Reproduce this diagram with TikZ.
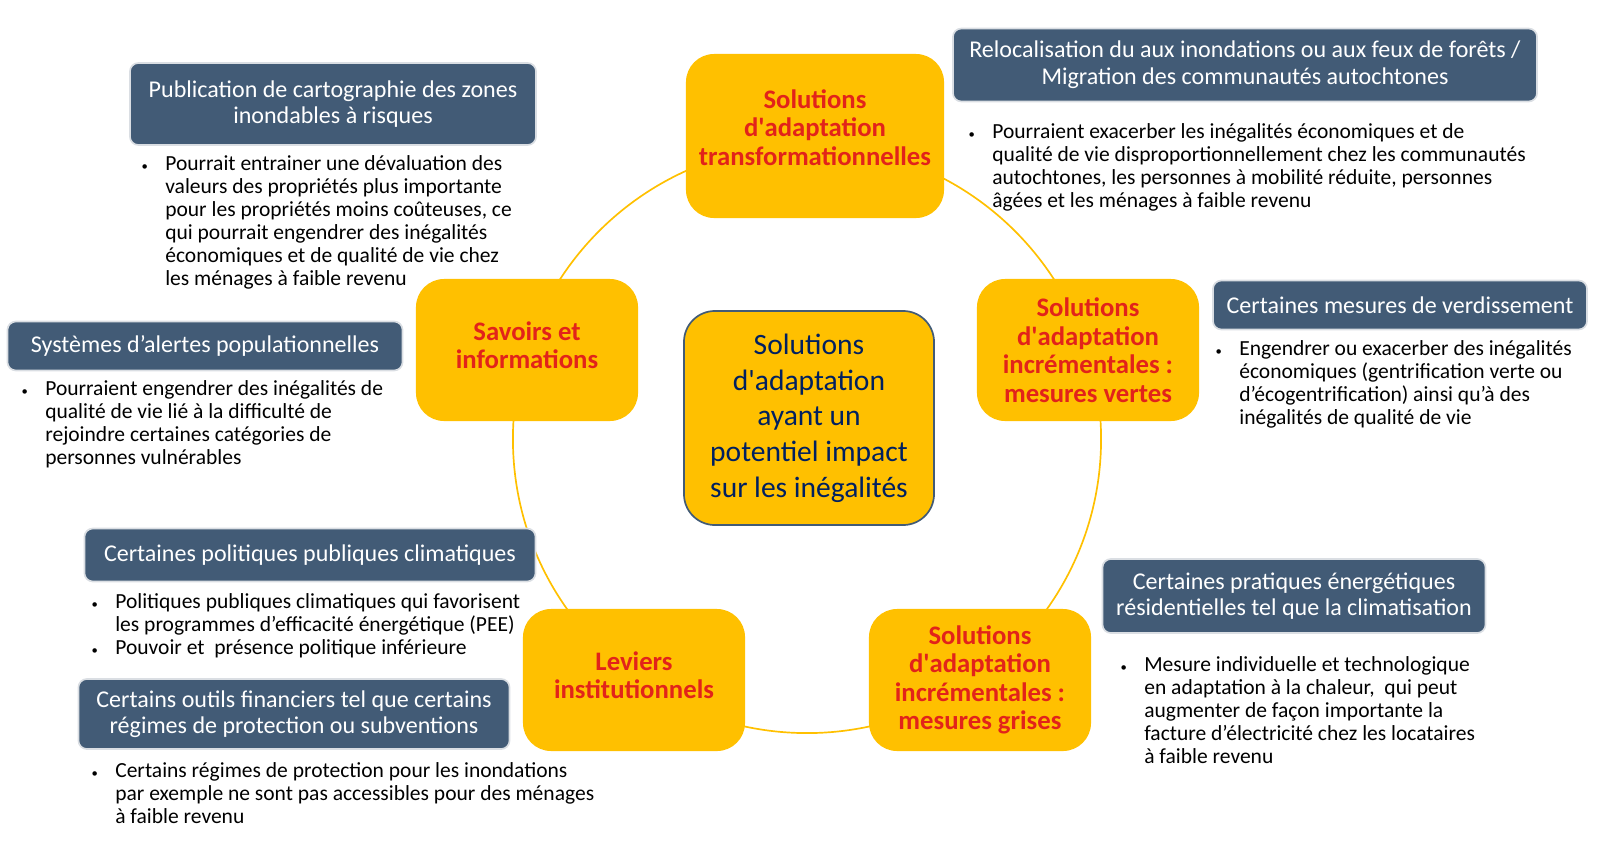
\documentclass[tikz,border=0pt]{standalone}
\usepackage{fontspec}
\setmainfont{Carlito}
\usetikzlibrary{positioning}
\definecolor{adaptyellow}{RGB}{255,192,0}
\definecolor{adaptred}{RGB}{226,35,26}
\definecolor{adaptnavy}{RGB}{0,32,96}
\definecolor{riskblue}{RGB}{66,91,118}
\definecolor{riskframe}{RGB}{218,222,227}
\newcommand{\sq}{\textquotesingle}
\newcommand{\bpoint}{\makebox[17.8pt][l]{\hspace{1pt}\fontsize{9}{9}\selectfont\textbullet}}
\newcommand{\notelist}[1]{\begin{tabular}{@{}l@{}l@{}}#1\end{tabular}}

\begin{document}
\begin{tikzpicture}[x=0.025cm, y=-0.025cm,
  sol/.style={rectangle, rounded corners=20pt, fill=adaptyellow, minimum width=5.55cm,
    minimum height=3.55cm, align=center, text=adaptred, font=\fontsize{19}{20.3}\selectfont\bfseries},
  hub/.style={rectangle, rounded corners=22pt, fill=adaptyellow, draw=riskblue, line width=1.2pt,
    minimum width=6.25cm, minimum height=5.35cm, align=center, text=adaptnavy, font=\fontsize{21}{25.4}\selectfont},
  risk/.style={rectangle, rounded corners=6pt, fill=riskblue, draw=riskframe, line width=1.2pt,
    inner sep=0pt, align=center, text=white, font=\fontsize{17.1}{18.9}\selectfont},
  note/.style={anchor=north west, inner sep=0pt, font=\fontsize{15.3}{16.4}\selectfont},
  ring/.style={adaptyellow, line width=1.2pt}]
\useasboundingbox (0,0) rectangle (1600,850);
\draw[ring] (807,439) circle [radius=7.35cm];

\node[hub] (hub) at (809,418) {Solutions\\d\sq adaptation\\ayant un\\potentiel impact\\sur les inégalités};
\node[sol, minimum width=6.45cm, minimum height=4.1cm, text depth=12pt] (transfo) at (815,136) {Solutions\\d\sq adaptation\\transformationnelles};
\node[sol] (vertes) at (1088,350) {Solutions\\d\sq adaptation\\incrémentales :\\mesures vertes};
\node[sol] (grises) at (980,680) {Solutions\\d\sq adaptation\\incrémentales :\\mesures grises};
\node[sol, text depth=7pt] (leviers) at (634,680) {Leviers\\institutionnels};
\node[sol, text depth=7pt] (savoirs) at (527,350) {Savoirs et\\informations};

\node[risk, minimum width=10.15cm, minimum height=2.05cm] (carto) at (333,104) {Publication de cartographie des zones\\inondables à risques};
\node[risk, minimum width=14.6cm, minimum height=1.825cm] (reloc) at (1245,65) {Relocalisation du aux inondations ou aux feux de forêts /\\Migration des communautés autochtones};
\node[risk, minimum width=9.875cm, minimum height=1.225cm] (alertes) at (205,346) {Systèmes d’alertes populationnelles};
\node[risk, minimum width=9.35cm, minimum height=1.225cm] (verdis) at (1400,305) {Certaines mesures de verdissement};
\node[risk, minimum width=11.275cm, minimum height=1.325cm] (politiques) at (310,555) {Certaines politiques publiques climatiques};
\node[risk, minimum width=10.775cm, minimum height=1.75cm] (outils) at (294,714) {Certains outils financiers tel que certains\\régimes de protection ou subventions};
\node[risk, minimum width=9.575cm, minimum height=1.85cm] (clim) at (1294,596) {Certaines pratiques énergétiques\\résidentielles tel que la climatisation};

\node[note] (carto-note) at (140,154) {\notelist{\bpoint & Pourrait entrainer une dévaluation des\\ & valeurs des propriétés plus importante\\ & pour les propriétés moins coûteuses, ce\\ & qui pourrait engendrer des inégalités\\ & économiques et de qualité de vie chez\\ & les ménages à faible revenu}};
\node[note] (reloc-note) at (967,122) {\notelist{\bpoint & Pourraient exacerber les inégalités économiques et de\\ & qualité de vie disproportionnellement chez les communautés\\ & autochtones, les personnes à mobilité réduite, personnes\\ & âgées et les ménages à faible revenu}};
\node[note] (alertes-note) at (20,379) {\notelist{\bpoint & Pourraient engendrer des inégalités de\\ & qualité de vie lié à la difficulté de\\ & rejoindre certaines catégories de\\ & personnes vulnérables}};
\node[note] (verdis-note) at (1214,339) {\notelist{\bpoint & Engendrer ou exacerber des inégalités\\ & économiques (gentrification verte ou\\ & d’écogentrification) ainsi qu’à des\\ & inégalités de qualité de vie}};
\node[note] (politiques-note) at (90,592) {\notelist{\bpoint & Politiques publiques climatiques qui favorisent\\ & les programmes d’efficacité énergétique (PEE)\\ \bpoint & Pouvoir et \ présence politique inférieure}};
\node[note] (outils-note) at (90,761) {\notelist{\bpoint & Certains régimes de protection pour les inondations\\ & par exemple ne sont pas accessibles pour des ménages\\ & à faible revenu}};
\node[note] (clim-note) at (1119,655) {\notelist{\bpoint & Mesure individuelle et technologique\\ & en adaptation à la chaleur, \ qui peut\\ & augmenter de façon importante la\\ & facture d’électricité chez les locataires\\ & à faible revenu}};
\end{tikzpicture}
\end{document}
